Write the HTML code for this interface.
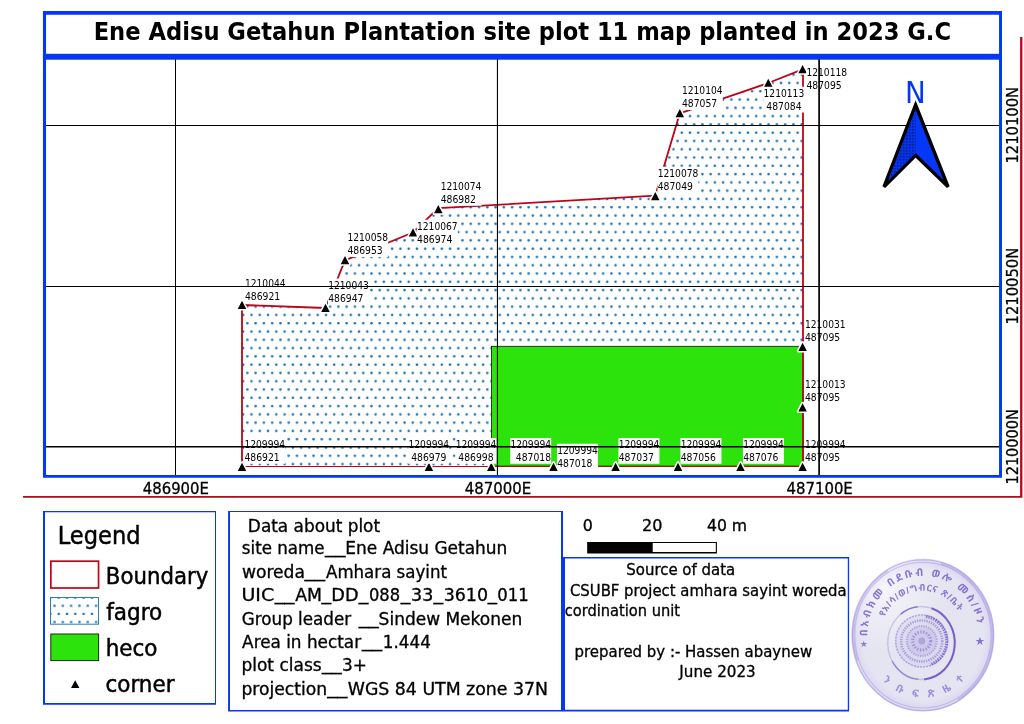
<!DOCTYPE html>
<html lang="en">
<head>
<meta charset="utf-8">
<title>Ene Adisu Getahun Plantation site plot 11 map planted in 2023 G.C</title>
<style>
html,body{margin:0;padding:0;background:#fff;}
body{width:1024px;height:724px;overflow:hidden;}
svg{display:block;}
text{font-family:'DejaVu Sans Condensed', 'Liberation Sans', sans-serif;fill:#000;}
.tt{font-size:25px;font-weight:bold;}
.lb{font-size:10.9px;}
.gl{font-size:16.6px;stroke:#000;stroke-width:0.3px;}
.lt{font-size:24.8px;stroke:#000;stroke-width:0.45px;}
.lg{font-size:23.2px;stroke:#000;stroke-width:0.45px;}
.d{font-size:17.0px;stroke:#000;stroke-width:0.3px;}
.s{font-size:15.6px;stroke:#000;stroke-width:0.3px;}
.sc{font-size:16.0px;stroke:#000;stroke-width:0.3px;}
.n{font-size:30px;}
.st text{font-family:'Liberation Sans','Noto Sans Ethiopic','DejaVu Sans',sans-serif;font-weight:bold;fill:#6244c6;}
</style>
</head>
<body>
<svg width="1024" height="724" viewBox="0 0 1024 724">
<defs>
<pattern id="dots" x="243.2" y="302.54" width="8.274" height="16.57" patternUnits="userSpaceOnUse">
<rect x="2.9" y="3.0" width="2.5" height="2.3" rx="0.8" fill="#1b72b4"/>
<rect x="-1.237" y="11.285" width="2.5" height="2.3" rx="0.8" fill="#1b72b4"/>
<rect x="7.037" y="11.285" width="2.5" height="2.3" rx="0.8" fill="#1b72b4"/>
</pattern>
<pattern id="ldots" x="50.4" y="601.6" width="8.3" height="16.2" patternUnits="userSpaceOnUse">
<rect x="2.95" y="3.05" width="2.4" height="2.2" rx="0.8" fill="#1b72b4"/>
<rect x="-1.2" y="11.15" width="2.4" height="2.2" rx="0.8" fill="#1b72b4"/>
<rect x="7.1" y="11.15" width="2.4" height="2.2" rx="0.8" fill="#1b72b4"/>
</pattern>
<pattern id="stip" width="1.5" height="1.5" patternUnits="userSpaceOnUse">
<rect width="1.5" height="1.5" fill="#0636f6"/>
<rect width="0.75" height="0.75" fill="#000" opacity="0.6"/>
</pattern>
</defs>
<rect width="1024" height="724" fill="#fff"/>

<g id="map">
<polygon points="242,305 325.5,308 345,260.3 413,232.5 438.3,208.2 655.3,195.6 679.8,113.3 768.3,83 802.6,69.3 803.0,69.3 803.0,466.5 242,466.5" fill="url(#dots)"/>
<rect x="491.4" y="346.3" width="311.6" height="119.8" fill="#2de30c" stroke="#111" stroke-width="0.8"/>
<polyline points="242,466.9 242,305 325.5,308 345,260.3 413,232.5 438.3,208.2 655.3,195.6 679.8,113.3 768.3,83 802.6,69.3 803.0,69.3 803.0,466.9" fill="none" stroke="#bb0518" stroke-width="1.8" stroke-linejoin="round"/>
<line x1="241.1" y1="466.5" x2="803.9" y2="466.5" stroke="#bb0518" stroke-width="1"/>
<g fill="#000" stroke="#fff" stroke-width="3" paint-order="stroke" stroke-linejoin="round">
<path d="M242.0 300.7L246.25 308.9H237.75Z"/>
<path d="M325.5 303.7L329.75 311.9H321.25Z"/>
<path d="M345.0 256.0L349.25 264.2H340.75Z"/>
<path d="M413.0 228.2L417.25 236.4H408.75Z"/>
<path d="M438.3 205.0L442.55 213.2H434.05Z"/>
<path d="M655.3 192.0L659.55 200.2H651.05Z"/>
<path d="M679.8 109.0L684.05 117.2H675.55Z"/>
<path d="M768.3 78.7L772.55 86.9H764.05Z"/>
<path d="M802.6 65.0L806.85 73.2H798.35Z"/>
<path d="M802.6 342.7L806.85 350.9H798.35Z"/>
<path d="M802.6 403.2L806.85 411.4H798.35Z"/>
<path d="M802.6 462.7L806.85 470.9H798.35Z"/>
<path d="M740.5 462.7L744.75 470.9H736.25Z"/>
<path d="M678.0 462.7L682.25 470.9H673.75Z"/>
<path d="M615.6 462.7L619.85 470.9H611.35Z"/>
<path d="M553.5 462.7L557.75 470.9H549.25Z"/>
<path d="M491.3 462.7L495.55 470.9H487.05Z"/>
<path d="M428.9 462.7L433.15 470.9H424.65Z"/>
<path d="M242.0 462.7L246.25 470.9H237.75Z"/>
</g>
<g class="lb">
<path fill="#fff" d="M244.70 276.30h41.00v25.9h-41.00zM327.95 278.50h41.00v25.9h-41.00zM347.20 231.10h41.00v25.9h-41.00zM416.80 219.80h41.00v25.9h-41.00zM440.45 179.80h41.00v25.9h-41.00zM657.45 166.70h41.00v25.9h-41.00zM681.70 84.10h41.00v25.9h-41.00zM763.35 86.70h41.00v25.9h-41.00zM806.20 66.10h41.00v25.9h-41.00zM804.70 317.80h41.00v25.9h-41.00zM804.70 377.90h41.00v25.9h-41.00zM804.70 437.90h41.00v25.9h-41.00zM742.95 437.90h41.00v25.9h-41.00zM680.45 437.90h41.00v25.9h-41.00zM618.45 437.90h41.00v25.9h-41.00zM556.95 443.80h41.00v25.9h-41.00zM510.20 437.90h41.00v25.9h-41.00zM455.45 437.90h41.00v25.9h-41.00zM408.25 437.90h41.00v25.9h-41.00zM244.20 437.90h41.00v25.9h-41.00z"/>
<text><tspan x="244.90" y="286.50" textLength="40.7" lengthAdjust="spacingAndGlyphs">1210044</tspan> <tspan x="244.90" y="299.55" textLength="35.3" lengthAdjust="spacingAndGlyphs">486921</tspan></text>
<text><tspan x="328.15" y="288.70" textLength="40.7" lengthAdjust="spacingAndGlyphs">1210043</tspan> <tspan x="328.15" y="301.75" textLength="35.3" lengthAdjust="spacingAndGlyphs">486947</tspan></text>
<text><tspan x="347.40" y="241.30" textLength="40.7" lengthAdjust="spacingAndGlyphs">1210058</tspan> <tspan x="347.40" y="254.35" textLength="35.3" lengthAdjust="spacingAndGlyphs">486953</tspan></text>
<text><tspan x="417.00" y="230.00" textLength="40.7" lengthAdjust="spacingAndGlyphs">1210067</tspan> <tspan x="417.00" y="243.05" textLength="35.3" lengthAdjust="spacingAndGlyphs">486974</tspan></text>
<text><tspan x="440.65" y="190.00" textLength="40.7" lengthAdjust="spacingAndGlyphs">1210074</tspan> <tspan x="440.65" y="203.05" textLength="35.3" lengthAdjust="spacingAndGlyphs">486982</tspan></text>
<text><tspan x="657.65" y="176.90" textLength="40.7" lengthAdjust="spacingAndGlyphs">1210078</tspan> <tspan x="657.65" y="189.95" textLength="35.3" lengthAdjust="spacingAndGlyphs">487049</tspan></text>
<text><tspan x="681.90" y="94.30" textLength="40.7" lengthAdjust="spacingAndGlyphs">1210104</tspan> <tspan x="681.90" y="107.35" textLength="35.3" lengthAdjust="spacingAndGlyphs">487057</tspan></text>
<text><tspan x="763.55" y="96.90" textLength="40.7" lengthAdjust="spacingAndGlyphs">1210113</tspan> <tspan x="766.25" y="109.95" textLength="35.3" lengthAdjust="spacingAndGlyphs">487084</tspan></text>
<text><tspan x="806.40" y="76.30" textLength="40.7" lengthAdjust="spacingAndGlyphs">1210118</tspan> <tspan x="806.40" y="89.35" textLength="35.3" lengthAdjust="spacingAndGlyphs">487095</tspan></text>
<text><tspan x="804.90" y="328.00" textLength="40.7" lengthAdjust="spacingAndGlyphs">1210031</tspan> <tspan x="804.90" y="341.05" textLength="35.3" lengthAdjust="spacingAndGlyphs">487095</tspan></text>
<text><tspan x="804.90" y="388.10" textLength="40.7" lengthAdjust="spacingAndGlyphs">1210013</tspan> <tspan x="804.90" y="401.15" textLength="35.3" lengthAdjust="spacingAndGlyphs">487095</tspan></text>
<text><tspan x="804.90" y="448.10" textLength="40.7" lengthAdjust="spacingAndGlyphs">1209994</tspan> <tspan x="804.90" y="461.15" textLength="35.3" lengthAdjust="spacingAndGlyphs">487095</tspan></text>
<text><tspan x="743.15" y="448.10" textLength="40.7" lengthAdjust="spacingAndGlyphs">1209994</tspan> <tspan x="743.15" y="461.15" textLength="35.3" lengthAdjust="spacingAndGlyphs">487076</tspan></text>
<text><tspan x="680.65" y="448.10" textLength="40.7" lengthAdjust="spacingAndGlyphs">1209994</tspan> <tspan x="680.65" y="461.15" textLength="35.3" lengthAdjust="spacingAndGlyphs">487056</tspan></text>
<text><tspan x="618.65" y="448.10" textLength="40.7" lengthAdjust="spacingAndGlyphs">1209994</tspan> <tspan x="618.65" y="461.15" textLength="35.3" lengthAdjust="spacingAndGlyphs">487037</tspan></text>
<text><tspan x="557.15" y="454.00" textLength="40.7" lengthAdjust="spacingAndGlyphs">1209994</tspan> <tspan x="557.15" y="467.05" textLength="35.3" lengthAdjust="spacingAndGlyphs">487018</tspan></text>
<text><tspan x="510.40" y="448.10" textLength="40.7" lengthAdjust="spacingAndGlyphs">1209994</tspan> <tspan x="515.80" y="461.15" textLength="35.3" lengthAdjust="spacingAndGlyphs">487018</tspan></text>
<text><tspan x="455.65" y="448.10" textLength="40.7" lengthAdjust="spacingAndGlyphs">1209994</tspan> <tspan x="458.35" y="461.15" textLength="35.3" lengthAdjust="spacingAndGlyphs">486998</tspan></text>
<text><tspan x="408.45" y="448.10" textLength="40.7" lengthAdjust="spacingAndGlyphs">1209994</tspan> <tspan x="411.15" y="461.15" textLength="35.3" lengthAdjust="spacingAndGlyphs">486979</tspan></text>
<text><tspan x="244.40" y="448.10" textLength="40.7" lengthAdjust="spacingAndGlyphs">1209994</tspan> <tspan x="244.40" y="461.15" textLength="35.3" lengthAdjust="spacingAndGlyphs">486921</tspan></text>
</g>
<g stroke="#000" stroke-width="1" fill="none">
<line x1="175.5" y1="59" x2="175.5" y2="476" stroke-width="1"/>
<line x1="497.45" y1="59" x2="497.45" y2="476" stroke-width="1.1"/>
<line x1="819.1" y1="59" x2="819.1" y2="476" stroke-width="1.7"/>
<line x1="45" y1="125.5" x2="1000" y2="125.5" stroke-width="1"/>
<line x1="45" y1="286.5" x2="1000" y2="286.5" stroke-width="1.1"/>
<line x1="45" y1="446.8" x2="1000" y2="446.8" stroke-width="1.4"/>
</g>
<text class="n" x="904.93" y="102.80" textLength="20.74" lengthAdjust="spacingAndGlyphs" style="fill:#0636f6">N</text>
<path d="M915.6 104.9L948.1 186.9L915.6 155.4L884.0 186.9Z" fill="#0636f6" stroke="#000" stroke-width="3.4" stroke-linejoin="miter" stroke-miterlimit="3"/>
<path d="M915.6 109.7V153.3L888.1 180.6Z" fill="url(#stip)"/>
</g>
<path fill="#0636f6" fill-rule="evenodd" d="M42.95 11.05H1002.0V477.8H42.95ZM46.05 14.77V475.00H999.05V14.77Z"/>
<rect x="42.95" y="53.8" width="959.05" height="5.9" fill="#0636f6"/>
<path fill="#bb0518" d="M23 495.95H1020.1V37H1022.4V497.85H23Z"/>
<text class="tt" x="93.66" y="40.00" textLength="857.39" lengthAdjust="spacingAndGlyphs">Ene Adisu Getahun Plantation site plot 11 map planted in 2023 G.C</text>
<text class="gl" x="142.74" y="493.70" textLength="66.25" lengthAdjust="spacingAndGlyphs">486900E</text>
<text class="gl" x="464.64" y="493.70" textLength="66.49" lengthAdjust="spacingAndGlyphs">487000E</text>
<text class="gl" x="786.54" y="493.70" textLength="66.25" lengthAdjust="spacingAndGlyphs">487100E</text>
<text class="gl" transform="translate(1018.20 162.40) rotate(-90)" x="-1.22" y="0.00" textLength="76.72" lengthAdjust="spacingAndGlyphs">1210100N</text>
<text class="gl" transform="translate(1018.20 323.20) rotate(-90)" x="-1.23" y="0.00" textLength="76.70" lengthAdjust="spacingAndGlyphs">1210050N</text>
<text class="gl" transform="translate(1018.20 483.40) rotate(-90)" x="-1.21" y="0.00" textLength="75.55" lengthAdjust="spacingAndGlyphs">1210000N</text>
<rect x="43" y="511" width="173.00" height="193.80" fill="#fff"/><path fill="#0636f6" fill-rule="evenodd" d="M43 511H216V704.8H43ZM45.00 512.15V703.00H215.00V512.15Z"/>
<text class="lt" x="57.76" y="543.80" textLength="82.79" lengthAdjust="spacingAndGlyphs">Legend</text>
<text class="lg" x="105.87" y="583.50" textLength="102.35" lengthAdjust="spacingAndGlyphs">Boundary</text>
<text class="lg" x="106.28" y="620.40" textLength="55.92" lengthAdjust="spacingAndGlyphs">fagro</text>
<text class="lg" x="105.66" y="656.40" textLength="51.88" lengthAdjust="spacingAndGlyphs">heco</text>
<text class="lg" x="105.53" y="692.40" textLength="68.97" lengthAdjust="spacingAndGlyphs">corner</text>
<rect x="50.85" y="561.2" width="47.7" height="26.8" fill="#fff" stroke="#bb0518" stroke-width="1.7"/>
<rect x="50.5" y="597.5" width="48" height="26.7" fill="url(#ldots)" stroke="#2a7cba" stroke-width="1"/>
<rect x="50.8" y="634" width="47.8" height="26.6" fill="#2de30c" stroke="#222" stroke-width="1"/>
<path d="M75.2 680.2L79.4 688H71Z" fill="#000"/>
<rect x="228.1" y="511" width="334.90" height="200.60" fill="#fff"/><path fill="#0636f6" fill-rule="evenodd" d="M228.1 511H563V711.6H228.1ZM230.00 512.05V710.00H561.00V512.05Z"/>
<text class="d" x="247.89" y="531.80" textLength="132.18" lengthAdjust="spacingAndGlyphs">Data about plot</text>
<text class="d"><tspan x="241.86" y="554.30" textLength="82.68" lengthAdjust="spacingAndGlyphs">site name</tspan><tspan x="325.06" y="553.20" textLength="20.38" lengthAdjust="spacingAndGlyphs">__</tspan><tspan x="345.39" y="554.30" textLength="162.01" lengthAdjust="spacingAndGlyphs">Ene Adisu Getahun</tspan></text>
<text class="d"><tspan x="241.91" y="577.70" textLength="63.00" lengthAdjust="spacingAndGlyphs">woreda</tspan><tspan x="304.51" y="576.60" textLength="20.47" lengthAdjust="spacingAndGlyphs">__</tspan><tspan x="326.02" y="577.70" textLength="120.94" lengthAdjust="spacingAndGlyphs">Amhara sayint</tspan></text>
<text class="d"><tspan x="241.41" y="600.90" textLength="32.80" lengthAdjust="spacingAndGlyphs">UIC</tspan><tspan x="274.65" y="599.80" textLength="19.87" lengthAdjust="spacingAndGlyphs">__</tspan><tspan x="295.22" y="600.90" textLength="26.76" lengthAdjust="spacingAndGlyphs">AM</tspan><tspan x="321.57" y="599.80" textLength="9.66" lengthAdjust="spacingAndGlyphs">_</tspan><tspan x="331.36" y="600.90" textLength="27.21" lengthAdjust="spacingAndGlyphs">DD</tspan><tspan x="358.73" y="599.80" textLength="9.64" lengthAdjust="spacingAndGlyphs">_</tspan><tspan x="368.96" y="600.90" textLength="31.09" lengthAdjust="spacingAndGlyphs">088</tspan><tspan x="400.67" y="599.80" textLength="9.66" lengthAdjust="spacingAndGlyphs">_</tspan><tspan x="411.10" y="600.90" textLength="22.21" lengthAdjust="spacingAndGlyphs">33</tspan><tspan x="433.53" y="599.80" textLength="9.64" lengthAdjust="spacingAndGlyphs">_</tspan><tspan x="443.68" y="600.90" textLength="44.30" lengthAdjust="spacingAndGlyphs">3610</tspan><tspan x="487.74" y="599.80" textLength="9.22" lengthAdjust="spacingAndGlyphs">_</tspan><tspan x="497.35" y="600.90" textLength="31.33" lengthAdjust="spacingAndGlyphs">011</tspan></text>
<text class="d"><tspan x="241.81" y="624.70" textLength="109.42" lengthAdjust="spacingAndGlyphs">Group leader</tspan><tspan x="358.85" y="623.60" textLength="19.85" lengthAdjust="spacingAndGlyphs">__</tspan><tspan x="378.64" y="624.70" textLength="143.53" lengthAdjust="spacingAndGlyphs">Sindew Mekonen</tspan></text>
<text class="d"><tspan x="242.12" y="648.10" textLength="118.97" lengthAdjust="spacingAndGlyphs">Area in hectar</tspan><tspan x="361.96" y="647.00" textLength="20.16" lengthAdjust="spacingAndGlyphs">__</tspan><tspan x="382.82" y="648.10" textLength="47.99" lengthAdjust="spacingAndGlyphs">1.444</tspan></text>
<text class="d"><tspan x="241.43" y="671.30" textLength="80.21" lengthAdjust="spacingAndGlyphs">plot class</tspan><tspan x="321.95" y="670.20" textLength="19.85" lengthAdjust="spacingAndGlyphs">__</tspan><tspan x="342.00" y="671.30" textLength="24.86" lengthAdjust="spacingAndGlyphs">3+</tspan></text>
<text class="d"><tspan x="241.43" y="694.70" textLength="85.76" lengthAdjust="spacingAndGlyphs">projection</tspan><tspan x="327.18" y="693.60" textLength="20.29" lengthAdjust="spacingAndGlyphs">__</tspan><tspan x="347.78" y="694.70" textLength="200.19" lengthAdjust="spacingAndGlyphs">WGS 84 UTM zone 37N</tspan></text>
<text class="sc" x="582.77" y="531.20" textLength="10.07" lengthAdjust="spacingAndGlyphs">0</text>
<text class="sc" x="642.03" y="531.20" textLength="20.39" lengthAdjust="spacingAndGlyphs">20</text>
<text class="sc" x="706.94" y="531.20" textLength="40.13" lengthAdjust="spacingAndGlyphs">40 m</text>
<path fill="#000" fill-rule="evenodd" d="M587.15 542H716.9V553.6H587.15ZM652.7 543.05V552.1H715.8V543.05Z"/>
<rect x="563" y="557" width="286.10" height="154.60" fill="#fff"/><path fill="#0636f6" fill-rule="evenodd" d="M563 557H849.1V711.6H563ZM565.00 558.50V709.80H847.80V558.50Z"/>
<text class="s" x="626.26" y="575.20" textLength="109.02" lengthAdjust="spacingAndGlyphs">Source of data</text>
<text class="s" x="569.96" y="595.50" textLength="276.69" lengthAdjust="spacingAndGlyphs">CSUBF project amhara sayint woreda</text>
<text class="s" x="564.81" y="615.70" textLength="115.22" lengthAdjust="spacingAndGlyphs">cordination unit</text>
<text class="s" x="574.50" y="656.70" textLength="237.61" lengthAdjust="spacingAndGlyphs">prepared by :- Hassen abaynew</text>
<text class="s" x="679.34" y="677.00" textLength="76.36" lengthAdjust="spacingAndGlyphs">June 2023</text>
<g id="stamp">
<defs>
<radialGradient id="sg" cx="50%" cy="50%" r="50%">
<stop offset="0" stop-color="#e4e4ef"/><stop offset="0.85" stop-color="#e5e4f1"/><stop offset="0.95" stop-color="#dcd8f2"/><stop offset="1" stop-color="#e6e3f6"/>
</radialGradient>
<radialGradient id="sh" cx="24%" cy="20%" r="42%">
<stop offset="0" stop-color="#fff" stop-opacity="0.6"/><stop offset="1" stop-color="#fff" stop-opacity="0"/>
</radialGradient>
<filter id="sb" x="-5%" y="-5%" width="110%" height="110%"><feGaussianBlur stdDeviation="0.35"/></filter>
<path id="arc1" d="M867.4 636.2A55.5 59 0 0 1 977.9 627.0"/>
<path id="arc2" d="M884.5 617.1A42 44.5 0 0 1 959.3 613.0"/>
<path id="arc3" d="M882.3 680.2A58.5 62.5 0 0 0 965.0 678.6"/>
</defs>
<g filter="url(#sb)">
<ellipse cx="922.9" cy="635.2" rx="71.8" ry="76.6" fill="url(#sg)"/>
<ellipse cx="922.9" cy="635.2" rx="71.8" ry="76.6" fill="url(#sh)"/>
<ellipse cx="922.9" cy="635.2" rx="70.6" ry="75.39999999999999" fill="none" stroke="#6a4fcb" stroke-opacity="0.32" stroke-width="1.3"/>
<ellipse cx="922.9" cy="635.2" rx="68.0" ry="72.8" fill="none" stroke="#6a4fcb" stroke-opacity="0.22" stroke-width="1.1"/>
<path d="M940.9 563.5A69.39999999999999 74.19999999999999 0 0 1 957.6 699.5" fill="none" stroke="#6a4fcb" stroke-opacity="0.22" stroke-width="2"/>
<path d="M857.7 660.6A69.39999999999999 74.19999999999999 0 0 1 888.2 570.9" fill="none" stroke="#6a4fcb" stroke-opacity="0.2" stroke-width="2"/>
<ellipse cx="921.2" cy="643.0" rx="33.5" ry="36.5" fill="none" stroke="#6a4fcb" stroke-opacity="0.25" stroke-width="1.4"/>
<path d="M931.6 608.3A33.5 36.5 0 0 1 924.1 679.4" fill="none" stroke="#5533bb" stroke-opacity="0.7" stroke-width="2"/>
<path d="M900.6 614.2A33.5 36.5 0 0 1 917.7 606.7" fill="none" stroke="#5533bb" stroke-opacity="0.55" stroke-width="1.5"/>
<path d="M918.3 679.4A33.5 36.5 0 0 1 892.2 661.2" fill="none" stroke="#5533bb" stroke-opacity="0.4" stroke-width="1.5"/>
<circle cx="921.7" cy="641.0" r="26" fill="#6a4fcb" fill-opacity="0.07" stroke="#6a4fcb" stroke-opacity="0.4" stroke-width="1.6" stroke-dasharray="2.2 0.9"/>
<path d="M926.0 616.4A25 25 0 0 1 930.3 664.5" fill="none" stroke="#5533bb" stroke-opacity="0.55" stroke-width="3" stroke-dasharray="1.6 0.9"/>
<circle cx="921.7" cy="641.0" r="20.5" fill="none" stroke="#6a4fcb" stroke-opacity="0.45" stroke-width="2.6" stroke-dasharray="1.3 1.1"/>
<circle cx="921.7" cy="641.0" r="15" fill="#6a4fcb" fill-opacity="0.1" stroke="#6a4fcb" stroke-opacity="0.4" stroke-width="2" stroke-dasharray="1.1 1.3"/>
<circle cx="921.7" cy="641.0" r="9" fill="none" stroke="#6a4fcb" stroke-opacity="0.45" stroke-width="3" stroke-dasharray="1.4 1.5"/>
<circle cx="921.7" cy="641.0" r="3.5" fill="#6a4fcb" fill-opacity="0.3"/>
<g class="st" fill-opacity="0.72">
<text font-size="10.5"><textPath href="#arc1" startOffset="0" textLength="170" lengthAdjust="spacing">በአብክመ በደቡብ ወሎ መስ/ዞን</textPath></text>
<text font-size="9.2"><textPath href="#arc2" startOffset="0" textLength="92" lengthAdjust="spacing">የአ/ሳ/ወ/ግብርና ጽ/ቤት</textPath></text>
<text font-size="10.5" fill-opacity="0.55"><textPath href="#arc3" startOffset="0" textLength="92" lengthAdjust="spacing">ን ቡ ፍ  ጽ ዜ ተ</textPath></text>
<text x="859.8" y="646.5" font-size="9" fill-opacity="0.65">★</text>
<text x="974.8" y="645" font-size="11.5">★</text>
</g>
</g>
</g>
</svg>
</body>
</html>
